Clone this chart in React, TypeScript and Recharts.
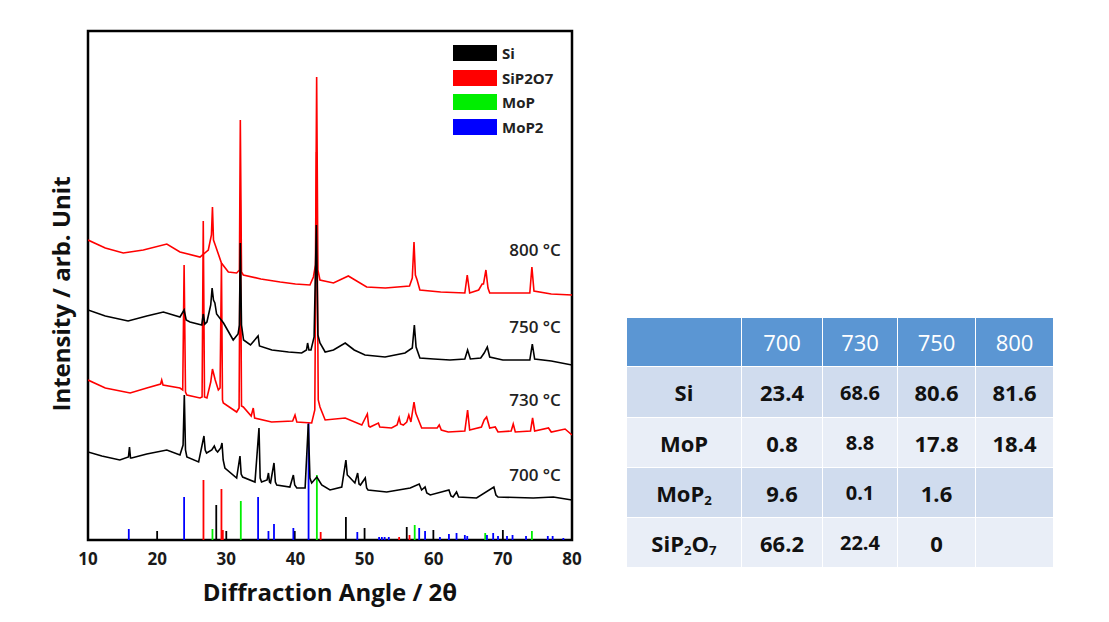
import {
  LineChart,
  Line,
  XAxis,
  YAxis,
  ReferenceLine,
  ReferenceArea,
  ReferenceDot,
} from 'recharts';

// [2θ, intensity] (intensity in arbitrary units, offset per trace)
const trace800: [number, number][] = [
  [10.0, 300], [12.5, 292], [15.1, 287], [18, 290], [21.4, 296], [23.3, 288], [26.2, 283], [27.4, 290],
  [27.85, 305], [28.0, 333], [28.15, 300], [28.4, 295], [29.3, 277], [30.3, 268], [31.5, 267], [31.9, 270],
  [32.03, 420], [32.2, 268], [32.46, 265], [35, 261], [37.8, 258], [40, 256], [42.1, 255], [42.6, 263],
  [42.9, 275], [43.07, 463], [43.25, 270], [43.55, 260], [45.5, 257], [47.65, 264], [50.3, 253], [53, 252],
  [56.5, 254], [56.9, 262], [57.15, 298], [57.35, 265], [57.6, 260], [58.0, 250], [61, 248], [64.5, 247],
  [64.85, 265], [65.2, 247], [66.5, 250], [67.0, 256], [67.2, 256], [67.55, 270], [67.85, 252], [68.1, 247],
  [71, 247], [73.9, 247], [74.2, 273], [74.5, 249], [77, 246], [80, 245],
];

const trace750: [number, number][] = [
  [10.0, 230], [12.5, 224], [15.8, 219], [18.5, 224], [20.9, 228], [23.3, 223], [23.9, 230], [24.2, 220],
  [24.75, 218], [26.45, 215], [26.67, 226], [26.9, 216], [27.2, 218], [27.75, 235], [27.95, 252], [28.15, 240],
  [28.35, 237], [28.6, 226], [29.6, 217], [31.0, 200], [31.7, 206], [31.9, 215], [32.03, 297], [32.2, 215],
  [32.5, 200], [33.5, 195], [34.6, 204], [34.8, 194], [36.6, 190], [39, 188], [40.9, 187], [41.6, 190],
  [41.76, 197], [41.95, 190], [42.25, 190], [42.7, 203], [43.03, 315], [43.25, 205], [43.55, 197], [44.3, 188],
  [45.5, 190], [47.2, 197], [48.5, 190], [50.06, 185], [52.96, 183], [55.85, 187], [56.9, 192], [57.2, 215],
  [57.45, 193], [58.0, 182], [60, 181], [62.35, 180], [64.5, 181], [64.9, 190], [65.3, 181], [66.8, 182],
  [67.3, 187], [67.75, 193], [68.1, 183], [70, 180], [73.9, 180], [74.26, 196], [74.6, 181], [77, 179], [80, 175],
];

const trace730: [number, number][] = [
  [10.0, 160], [12.5, 152], [16.1, 147], [18.5, 152], [20.5, 156], [20.66, 160], [20.85, 155], [23.3, 152],
  [23.7, 150], [23.9, 275], [24.1, 148], [24.3, 145], [26.2, 142], [26.5, 143], [26.67, 319], [26.85, 143],
  [27.2, 142], [27.75, 158], [28.0, 171], [28.4, 160], [28.85, 150], [29.1, 152], [29.3, 277], [29.45, 140],
  [29.57, 137], [31.5, 128], [31.85, 132], [32.03, 340], [32.2, 134], [32.46, 133], [33.6, 124], [33.9, 132],
  [34.1, 122], [36.55, 118], [39.6, 119], [39.94, 125], [40.2, 118], [42.35, 117], [42.8, 130], [43.05, 388],
  [43.3, 140], [43.55, 133], [44.3, 120], [47.2, 122], [49.6, 115], [50.4, 126], [50.6, 114], [50.8, 113],
  [52.0, 117], [52.2, 113], [53.9, 112], [54.7, 115], [55.0, 122], [55.2, 116], [55.6, 115], [56.1, 118],
  [56.4, 125], [56.7, 118], [57.15, 138], [57.4, 127], [57.8, 120], [58.26, 112], [60.5, 112], [60.8, 115],
  [61.1, 110], [62.1, 108], [64.5, 109], [64.9, 130], [65.2, 110], [66.9, 113], [67.3, 120], [67.65, 123],
  [68.1, 112], [68.9, 113], [69.3, 108], [71.2, 109], [71.5, 116], [71.8, 108], [74.0, 109], [74.3, 122],
  [74.6, 109], [76.6, 112], [77, 108], [79.0, 111], [80, 105],
];

const trace700: [number, number][] = [
  [10.0, 88], [12, 84], [14.6, 80], [15.85, 83], [16.0, 93], [16.15, 82], [16.3, 82], [18.5, 86], [21.4, 90],
  [23.3, 85], [23.75, 95], [23.93, 145], [24.1, 90], [24.3, 83], [26.0, 78], [26.77, 104], [26.95, 90],
  [27.15, 87], [27.9, 90], [28.27, 94], [28.5, 90], [28.75, 88], [29.2, 92], [29.38, 97], [29.55, 80],
  [29.8, 72], [31.5, 62], [31.98, 84], [32.15, 66], [32.37, 63], [34.15, 58], [34.73, 112], [34.9, 62],
  [35.1, 58], [35.9, 60], [36.1, 67], [36.25, 58], [36.4, 57], [36.9, 77], [37.1, 58], [37.3, 55], [39.2, 53],
  [39.7, 65], [39.9, 55], [40.2, 52], [41.4, 52], [41.86, 116], [42.1, 62], [42.35, 57], [43.1, 63],
  [43.8, 55], [45.0, 50], [46.7, 53], [47.3, 80], [47.5, 65], [47.8, 63], [48.6, 57], [49.0, 67], [49.2, 56],
  [49.4, 55], [50.1, 62], [50.3, 52], [50.5, 50], [53.2, 48], [56.6, 52], [57.9, 56], [58.25, 50],
  [58.75, 53], [59.0, 47], [59.5, 45], [62.2, 50], [62.5, 44], [62.8, 43], [63.3, 48], [63.6, 43],
  [66.2, 42], [68.7, 53], [69.0, 45], [69.3, 43], [74.4, 42], [77.3, 43], [80, 40],
];

// reference patterns: [2θ, relative height]
const siSticks: [number, number][] = [
  [20.0, 9], [28.55, 35], [30.0, 9], [39.9, 9], [47.3, 23], [50.0, 12], [56.1, 13], [59.95, 10], [70.0, 10],
];
const sip2o7Sticks: [number, number][] = [
  [26.7, 60], [29.3, 51], [29.5, 10], [43.65, 8], [55.0, 3], [56.5, 5],
];
const mopSticks: [number, number][] = [
  [28.0, 11], [32.1, 39], [43.1, 65], [57.25, 15], [67.45, 7], [74.2, 9],
];
const mop2Sticks: [number, number][] = [
  [15.9, 11], [23.9, 43], [34.6, 43], [36.1, 9], [36.9, 16], [39.7, 12], [41.9, 117], [48.95, 8],
  [52.1, 3], [52.5, 3], [52.9, 3], [53.5, 3], [57.9, 12], [58.75, 9], [60.9, 3], [62.2, 6], [63.3, 7],
  [64.5, 5], [64.85, 4], [67.7, 5], [68.6, 7], [69.3, 4], [70.6, 4], [71.4, 5], [73.35, 4], [76.5, 4],
  [77.2, 4], [78.75, 2],
];

const phases = [
  { name: 'Si', color: '#000000', sticks: siSticks },
  { name: 'SiP2O7', color: '#ff0000', sticks: sip2o7Sticks },
  { name: 'MoP', color: '#00ee00', sticks: mopSticks },
  { name: 'MoP2', color: '#0000ff', sticks: mop2Sticks },
];

const traces = [
  { key: '730', color: '#ff0000', data: trace730 },
  { key: '800', color: '#ff0000', data: trace800 },
  { key: '700', color: '#000000', data: trace700 },
  { key: '750', color: '#000000', data: trace750 },
];

const tempLabels: { text: string; x: number; y: number }[] = [
  { text: '800 °C', x: 74.65, y: 290 },
  { text: '750 °C', x: 74.65, y: 213 },
  { text: '730 °C', x: 74.65, y: 140 },
  { text: '700 °C', x: 74.65, y: 65 },
];

const xTicks = [10, 20, 30, 40, 50, 60, 70, 80];

// table
const tempHeaders = ['700', '730', '750', '800'];
const tableRows: { label: React.ReactNode; values: string[] }[] = [
  { label: 'Si', values: ['23.4', '68.6', '80.6', '81.6'] },
  { label: 'MoP', values: ['0.8', '8.8', '17.8', '18.4'] },
  { label: <>MoP<sub>2</sub></>, values: ['9.6', '0.1', '1.6', ''] },
  { label: <>SiP<sub>2</sub>O<sub>7</sub></>, values: ['66.2', '22.4', '0', ''] },
];

const FONT = '"Open Sans", "Noto Sans", sans-serif';

export default function App() {
  const colWidths = [115, 81, 75, 78, 78];
  const rowHeights = [51, 50, 50, 50];
  const cellBase: React.CSSProperties = {
    border: '1px solid #fff',
    textAlign: 'center',
    padding: 0,
    fontWeight: 700,
  };
  const subStyle = `sub{font-size:0.6em;vertical-align:-0.25em;line-height:0}`;

  return (
    <div style={{ position: 'absolute', left: 0, top: 0, width: 1109, height: 622, background: '#fff', fontFamily: FONT }}>
      <style>{subStyle}</style>
      <div style={{ position: 'absolute', left: 0, top: 0 }}>
        <LineChart width={600} height={622} margin={{ top: 31, right: 28, bottom: 52, left: 88 }}>
          <XAxis
            type="number"
            dataKey="0"
            domain={[10, 80]}
            ticks={xTicks}
            allowDataOverflow
            axisLine={false}
            tickLine={false}
            tickSize={0}
            tickMargin={13}
            height={30}
            tick={{ fontSize: 17, fontWeight: 700, fill: '#1a1a1a', fontFamily: FONT }}
            label={{
              value: 'Diffraction Angle / 2θ',
              position: 'bottom',
              offset: 14,
              style: { fontSize: 24, fontWeight: 700, fill: '#111', fontFamily: FONT },
            }}
          />
          <YAxis type="number" dataKey="1" domain={[0, 509]} hide allowDataOverflow />
          {phases.map((p) =>
            p.sticks.map(([a, h]) => (
              <ReferenceLine
                key={`${p.name}-${a}`}
                segment={[{ x: a, y: 0 }, { x: a, y: h }]}
                stroke={p.color}
                strokeWidth={1.8}
                ifOverflow="visible"
              />
            ))
          )}
          {traces.map((t) => (
            <Line
              key={t.key}
              data={t.data}
              dataKey="1"
              type="linear"
              stroke={t.color}
              strokeWidth={1.6}
              dot={false}
              isAnimationActive={false}
            />
          ))}
          {tempLabels.map((l) => (
            <ReferenceDot
              key={l.text}
              x={l.x}
              y={l.y}
              r={0}
              fill="none"
              stroke="none"
              label={{
                value: l.text,
                position: 'center',
                style: { fontSize: 17, fontWeight: 600, fill: '#222', fontFamily: FONT },
              }}
            />
          ))}
          <ReferenceArea
            x1={10}
            x2={80}
            y1={0}
            y2={509}
            fill="none"
            stroke="#000"
            strokeWidth={2.5}
            ifOverflow="visible"
          />
        </LineChart>
      </div>

      {/* y title */}
      <div
        style={{
          position: 'absolute',
          left: 60,
          top: 294,
          transform: 'translate(-50%, -50%) rotate(-90deg)',
          whiteSpace: 'nowrap',
          fontSize: 24,
          fontWeight: 700,
          color: '#111',
        }}
      >
        Intensity / arb. Unit
      </div>

      {/* legend */}
      <div style={{ position: 'absolute', left: 453, top: 41 }}>
        {phases.map((p) => (
          <div key={p.name} style={{ display: 'flex', alignItems: 'center', height: 24.5 }}>
            <div style={{ width: 44, height: 16, background: p.color }} />
            <span style={{ marginLeft: 5, fontSize: 15, fontWeight: 700, color: '#222' }}>{p.name}</span>
          </div>
        ))}
      </div>

      {/* composition table */}
      <table
        style={{
          position: 'absolute',
          left: 626,
          top: 317,
          borderCollapse: 'collapse',
          tableLayout: 'fixed',
          fontFamily: FONT,
        }}
      >
        <colgroup>
          {colWidths.map((w, i) => (
            <col key={i} style={{ width: w }} />
          ))}
        </colgroup>
        <tbody>
          <tr style={{ height: 49, background: '#5b96d3' }}>
            <td style={cellBase} />
            {tempHeaders.map((h) => (
              <td key={h} style={{ ...cellBase, color: '#fff', fontSize: 22, fontWeight: 400 }}>
                {h}
              </td>
            ))}
          </tr>
          {tableRows.map((r, i) => (
            <tr key={i} style={{ height: rowHeights[i], background: i % 2 === 0 ? '#d0dcee' : '#e9eef7' }}>
              <td style={{ ...cellBase, fontSize: 22, color: '#111' }}>{r.label}</td>
              {r.values.map((v, j) => (
                <td key={j} style={{ ...cellBase, fontSize: j === 1 ? 20 : 22, color: '#111' }}>
                  {v}
                </td>
              ))}
            </tr>
          ))}
        </tbody>
      </table>
    </div>
  );
}
